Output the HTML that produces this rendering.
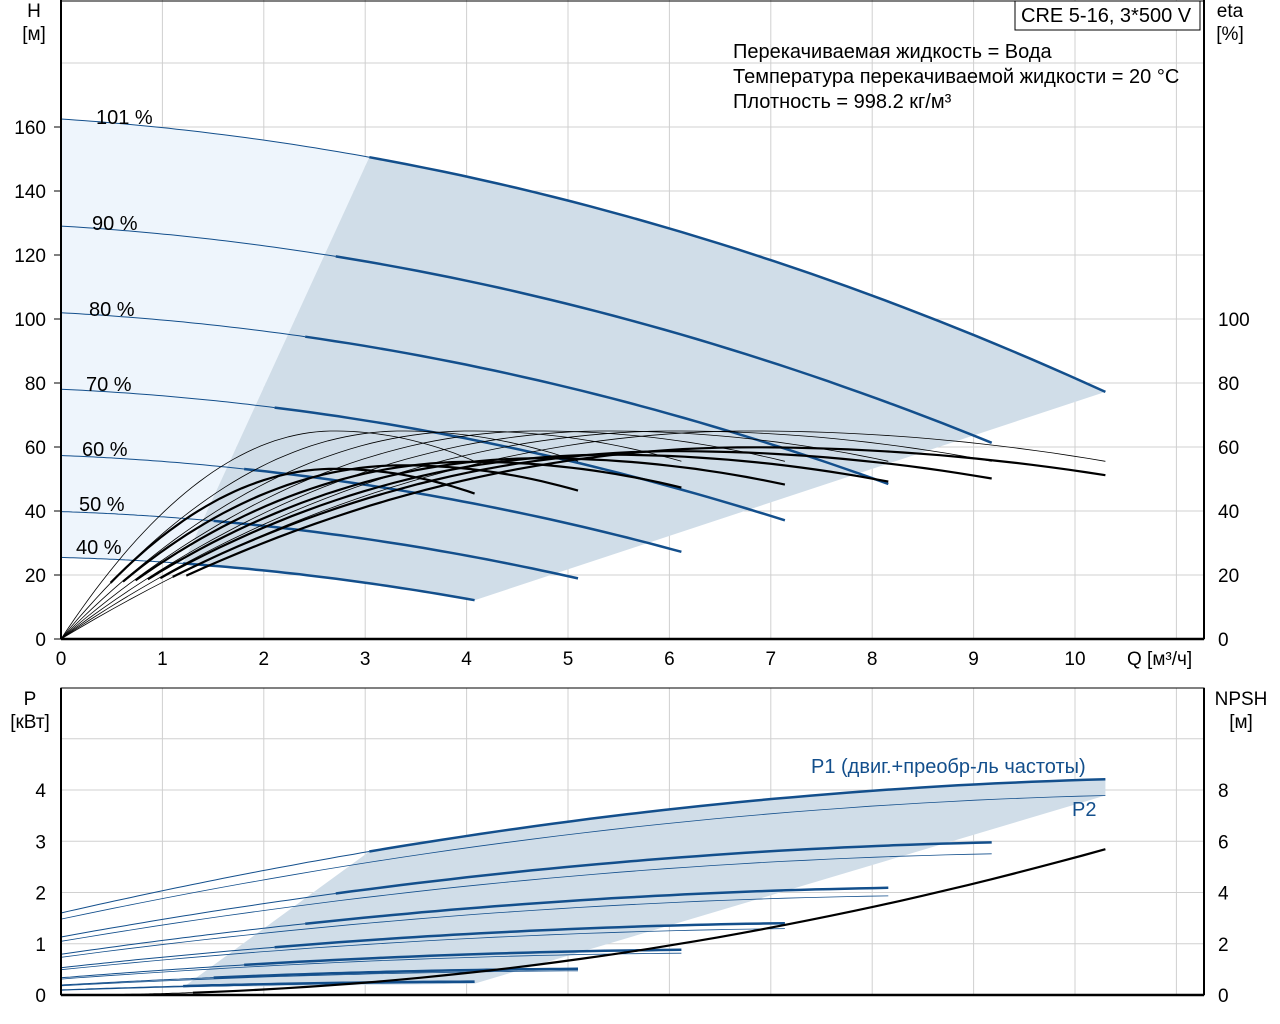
<!DOCTYPE html>
<html><head><meta charset="utf-8"><style>
body{margin:0;background:#fff;}
svg{display:block;font-family:"Liberation Sans",sans-serif;}
</style></head><body>
<svg id="s" width="1280" height="1024" xmlns="http://www.w3.org/2000/svg"></svg>
<script>
var s=document.getElementById('s');var out='';
function X(q){return 61+q*101.4;}
function YH(h){return 639-h*3.2;}
function YP(p){return 995-p*51.25;}
function YN(n){return 995-n*25.6;}
var speeds=[1.01,0.9,0.8,0.7,0.6,0.5,0.4];
function H(n,Q){var r=n/1.01;return r*r*162.5-r*2.1*Q-0.6*Q*Q;}
function P1(n,Q){var r=n/1.01,q=Q/r;return r*r*r*(1.6+0.4537*q-0.01946*q*q);}
function ETA(n,Q,E,k){var r=n/1.01,x=Q/(6.8*r);return x<=1?E*(2*x-x*x):E*(1-k*(x-1)*(x-1));}
function pts(f,a,b,N){N=N||40;var p=[];for(var i=0;i<=N;i++){var q=a+(b-a)*i/N;p.push(f(q));}return p;}
function pl(p,st){return '<polyline fill="none" '+st+' points="'+p.map(function(v){return v[0].toFixed(1)+','+v[1].toFixed(1)}).join(' ')+'"/>';}
function poly(p,fill){return '<polygon fill="'+fill+'" points="'+p.map(function(v){return v[0].toFixed(1)+','+v[1].toFixed(1)}).join(' ')+'"/>';}
var g='#d0d0d0';
for(var i=1;i<=11;i++){out+='<line x1="'+X(i)+'" y1="0" x2="'+X(i)+'" y2="639" stroke="'+g+'"/>';out+='<line x1="'+X(i)+'" y1="688" x2="'+X(i)+'" y2="995" stroke="'+g+'"/>';}
for(var h=20;h<=180;h+=20){out+='<line x1="61" y1="'+YH(h)+'" x2="1204" y2="'+YH(h)+'" stroke="'+g+'"/>';}
[1,2,3,4,5].forEach(function(p){out+='<line x1="61" y1="'+YP(p)+'" x2="1204" y2="'+YP(p)+'" stroke="'+g+'"/>';});
var blue='#134f8c';
var n0=1.01,nl=0.4,qs=function(n){return 3.04*n/1.01;},qe=function(n){return 10.3*n/1.01;};
var light=[];light=light.concat(pts(function(q){return [X(q),YH(H(n0,q))]},0,qs(n0)));
light.push([X(qs(nl)),YH(H(nl,qs(nl)))]);
light=light.concat(pts(function(q){return [X(q),YH(H(nl,q))]},qs(nl),0));
out+=poly(light,'#eef5fc');
var dark=pts(function(q){return [X(q),YH(H(n0,q))]},qs(n0),qe(n0));
dark.push([X(qe(nl)),YH(H(nl,qe(nl)))]);
dark=dark.concat(pts(function(q){return [X(q),YH(H(nl,q))]},qe(nl),qs(nl)));
out+=poly(dark,'#d0dde8');
var bd=pts(function(q){return [X(q),YP(P1(n0,q))]},qs(n0),qe(n0));
bd.push([X(qe(n0)),YP(0.925*P1(n0,qe(n0)))]);
bd.push([X(qe(nl)),YP(0.85*P1(nl,qe(nl)))]);
bd.push([X(qs(nl)),YP(0.85*P1(nl,qs(nl)))]);
out+=poly(bd,'#d0dde8');
speeds.forEach(function(n){
out+=pl(pts(function(q){return [X(q),YH(H(n,q))]},0,qs(n)),'stroke="'+blue+'" stroke-width="1"');
out+=pl(pts(function(q){return [X(q),YH(H(n,q))]},qs(n),qe(n)),'stroke="'+blue+'" stroke-width="2.5"');
out+=pl(pts(function(q){return [X(q),YP(P1(n,q))]},0,qs(n)),'stroke="'+blue+'" stroke-width="1"');
out+=pl(pts(function(q){return [X(q),YP(P1(n,q))]},qs(n),qe(n)),'stroke="'+blue+'" stroke-width="2.5"');
out+=pl(pts(function(q){return [X(q),YP(0.925*P1(n,q))]},0,qe(n)),'stroke="'+blue+'" stroke-width="0.8"');
});
speeds.forEach(function(n){
out+=pl(pts(function(q){return [X(q),YH(ETA(n,q,65,0.55))]},0,qe(n),60),'stroke="#000" stroke-width="0.8"');
var E=65*(0.75+0.17*n);
out+=pl(pts(function(q){return [X(q),YH(ETA(n,q,E,0.55))]},0.12*qe(n),qe(n),50),'stroke="#000" stroke-width="2.2"');
});
out+=pl(pts(function(q){return [X(q),YN(0.0537*q*q)]},0.5,1.3),'stroke="#000" stroke-width="1"');
out+=pl(pts(function(q){return [X(q),YN(0.0537*q*q)]},1.3,10.3),'stroke="#000" stroke-width="2.2"');
out+='<rect x="61" y="1" width="1143" height="638" fill="none" stroke="#000" stroke-width="1"/>';
out+='<line x1="61" y1="639" x2="1204" y2="639" stroke="#000" stroke-width="2.5"/><line x1="61" y1="0" x2="61" y2="639" stroke="#000" stroke-width="2"/><line x1="1204" y1="0" x2="1204" y2="639" stroke="#000" stroke-width="2"/>';
out+='<rect x="61" y="688" width="1143" height="307" fill="none" stroke="#000" stroke-width="1"/>';
out+='<line x1="61" y1="995" x2="1204" y2="995" stroke="#000" stroke-width="2.5"/><line x1="61" y1="688" x2="61" y2="995" stroke="#000" stroke-width="2"/><line x1="1204" y1="688" x2="1204" y2="995" stroke="#000" stroke-width="2"/>';
var t='font-size="19" fill="#000"',T='font-size="20" fill="#000"';
for(var h=0;h<=160;h+=20){out+='<text x="46" y="'+(YH(h)+7)+'" text-anchor="end" '+t+'>'+h+'</text>';out+='<line x1="54" y1="'+YH(h)+'" x2="61" y2="'+YH(h)+'" stroke="#000"/>';}
for(var e=0;e<=100;e+=20){out+='<text x="1218" y="'+(YH(e)+7)+'" '+t+'>'+e+'</text>';}
for(var q=0;q<=10;q++){out+='<text x="'+X(q)+'" y="665" text-anchor="middle" '+t+'>'+q+'</text>';}
for(var p=0;p<=4;p++){out+='<text x="46" y="'+(YP(p)+7)+'" text-anchor="end" '+t+'>'+p+'</text>';}
for(var m=0;m<=8;m+=2){out+='<text x="1218" y="'+(YN(m)+7)+'" '+t+'>'+m+'</text>';}
out+='<text x="1127" y="665" '+t+'>Q [м³/ч]</text>';
out+='<text x="34" y="17" text-anchor="middle" '+t+'>H</text><text x="34" y="40" text-anchor="middle" '+t+'>[м]</text>';
out+='<text x="1230" y="17" text-anchor="middle" '+t+'>eta</text><text x="1230" y="40" text-anchor="middle" '+t+'>[%]</text>';
out+='<text x="30" y="705" text-anchor="middle" '+t+'>P</text><text x="30" y="728" text-anchor="middle" '+t+'>[кВт]</text>';
out+='<text x="1241" y="705" text-anchor="middle" '+t+'>NPSH</text><text x="1241" y="728" text-anchor="middle" '+t+'>[м]</text>';
out+='<rect x="1015" y="1" width="185" height="29" fill="#fff" stroke="#000"/><text x="1021" y="22" '+T+'>CRE 5-16, 3*500 V</text>';
out+='<text x="733" y="58" '+T+'>Перекачиваемая жидкость = Вода</text><text x="733" y="83" '+T+'>Температура перекачиваемой жидкости = 20 °C</text><text x="733" y="108" '+T+'>Плотность = 998.2 кг/м³</text>';
[[96,124,'101 %'],[92,230,'90 %'],[89,316,'80 %'],[86,391,'70 %'],[82,456,'60 %'],[79,511,'50 %'],[76,554,'40 %']].forEach(function(a){out+='<text x="'+a[0]+'" y="'+a[1]+'" '+T+'>'+a[2]+'</text>';});
out+='<text x="811" y="773" font-size="20" fill="'+blue+'">P1 (двиг.+преобр-ль частоты)</text><text x="1072" y="816" font-size="20" fill="'+blue+'">P2</text>';
s.innerHTML=out;
</script>
</body></html>
